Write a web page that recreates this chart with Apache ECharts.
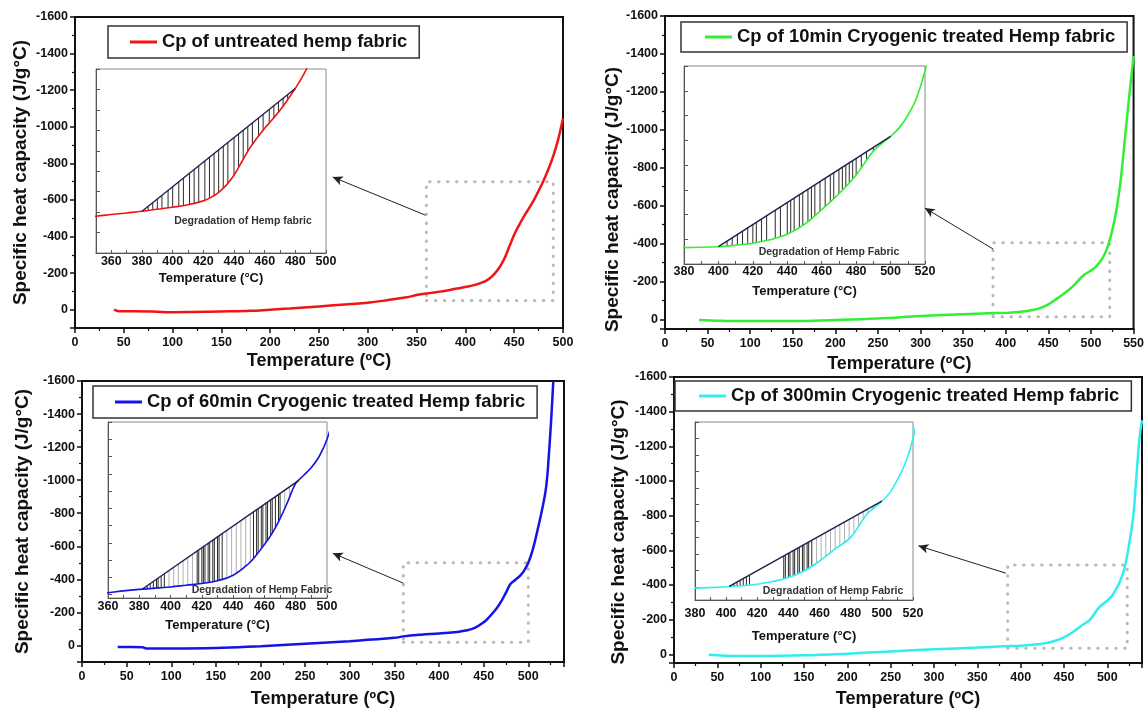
<!DOCTYPE html>
<html><head><meta charset="utf-8">
<script src="https://cdn.jsdelivr.net/npm/echarts@6/dist/echarts.min.js"></script>
<style>html,body{margin:0;padding:0;background:#fff}#c{width:1147px;height:709px}</style>
</head><body><div id="c"></div>
<script>
// ---------------- DATA ----------------
const names = [
  'Cp of untreated hemp fabric',
  'Cp of 10min Cryogenic treated Hemp fabric',
  'Cp of 60min Cryogenic treated Hemp fabric',
  'Cp of 300min Cryogenic treated Hemp fabric'
];
const degradationTexts = ['Degradation of Hemp fabric','Degradation of Hemp Fabric','Degradation of Hemp Fabric','Degradation of Hemp Fabric'];
const mainXTitle = 'Temperature (ºC)';
const insetXTitle = 'Temperature (°C)';
const yTitle = 'Specific heat capacity (J/g°C)';

// Panel 1 (untreated)
const temps1 = [40,45,60,80,100,120,150,180,200,220,250,280,300,320,340,350,360,370,380,390,400,410,420,425,430,435,440,445,450,455,460,465,470,475,480,485,490,495,500];
const cp1    = [0,8,8,10,14,13,10,6,0,-6,-18,-30,-38,-52,-68,-80,-88,-96,-104,-114,-124,-136,-155,-172,-197,-232,-280,-345,-410,-462,-510,-553,-598,-650,-705,-768,-840,-930,-1045];
// Panel 2 (10 min)
const temps2 = [40,60,80,100,150,200,250,300,350,380,400,410,420,430,440,450,460,470,480,490,500,505,510,515,520,525,530,535,540,545,550];
const cp2    = [3,6,8,8,8,2,-6,-18,-28,-33,-35,-38,-42,-49,-60,-80,-110,-142,-180,-228,-258,-275,-300,-335,-390,-470,-580,-740,-960,-1180,-1390];
// Panel 3 (60 min)
const temps3 = [40,55,68,72,100,150,200,250,300,350,360,380,400,410,420,430,440,450,455,460,465,470,475,480,485,490,495,500,505,510,515,520,523,526,528];
const cp3    = [10,10,11,18,19,16,4,-10,-26,-46,-55,-65,-72,-77,-82,-90,-106,-140,-165,-195,-228,-270,-320,-372,-395,-418,-450,-500,-580,-690,-810,-960,-1150,-1400,-1600];
// Panel 4 (300 min)
const temps4 = [40,75,100,150,200,250,300,350,380,400,420,430,440,450,460,470,480,490,495,500,505,510,515,520,525,530,533,537,540];
const cp4    = [2,10,10,6,-4,-17,-29,-39,-46,-50,-58,-66,-78,-98,-128,-165,-200,-268,-290,-310,-335,-375,-425,-500,-630,-800,-990,-1240,-1350];

// Tangent baselines of the degradation region (inset)
const base1 = [[380,-104],[480,-705]];
const base2 = [[400,-35],[500,-258]];
const base3 = [[382,-66],[482,-381]];
const base4 = [[402,-51],[500,-310]];

// Hatch line positions (temperature)
const hatch1 = [384,387,390,393,397,400,404,407,411,414,417,421,424,427,430,433,436,440,443,446,449,452,456,459,463,466,469,472,475,478];
const hatch1Light = [];
const hatch2 = [405,408,411,414,417,420,422,425,428,433,436,440,442,444,447,449,452,454,456,459,462,465,467,470,472,474,476,478,480,483,486,490,494];
const hatch2Light = [];
const hatch3 = [385,387,389,391,392,394,396,417,418,420,421,422,424,425,427,428,430,431,433,453,455,456,458,459,461,462,464,465,467,469,470];
const hatch3Light = [399,402,405,408,411,414,436,439,442,445,448,451,473,476,479];
const hatch4 = [405,407,409,411,413,415,437,438,440,441,443,444,446,447,449,450,452,453,455];
const hatch4Light = [458,461,464,467,470,473,476,479,482,485,488,491,494,497];

// ---------------- LAYOUT / STYLE ----------------
const FONT = 'Arial, "Liberation Sans", sans-serif';
const panels = [
  {name:names[0], color:'#f01414', temps:temps1, cp:cp1, base:base1, hatch:hatch1, hatchLight:hatch1Light, deg:degradationTexts[0],
   grid:[75,17,488,311], xMax:500, yMax:100, xNameGap:24, yNameGap:45, yShift:0,
   legend:{left:108, top:26, padding:[7,12,7,22]},
   rect:[[360,-50],[490,-700]], arrow:[[359,-517],[264,-725]],
   inset:{grid:[96,69,230,184], xMin:350, xMax:500, yMin:-800, yMax:100, yInt:100, labelMargin:2, nameGap:19}, degPos:[243,221]},
  {name:names[1], color:'#33ee33', temps:temps2, cp:cp2, base:base2, hatch:hatch2, hatchLight:hatch2Light, deg:degradationTexts[1],
   grid:[665,16,476,313], xMax:550, yMax:50, xNameGap:26, yNameGap:43, yShift:27,
   legend:{left:681, top:22, padding:[6,12,6,24]},
   rect:[[385,-15],[522,-405]], arrow:[[385,-372],[305,-588]],
   inset:{grid:[684,66,241,198], xMin:380, xMax:520, yMin:-400, yMax:0, yInt:50, labelMargin:1, nameGap:21}, degPos:[829,252]},
  {name:names[2], color:'#1414e6', temps:temps3, cp:cp3, base:base3, hatch:hatch3, hatchLight:hatch3Light, deg:degradationTexts[2],
   grid:[82,381,482,282], xMax:540, yMax:100, xNameGap:28, yNameGap:50, yShift:0,
   legend:{left:93, top:386, padding:[7,12,7,22]},
   rect:[[360,-20],[500,-500]], arrow:[[360,-377],[281,-558]],
   inset:{grid:[108,422,219,176], xMin:360, xMax:500, yMin:-550, yMax:-40, yInt:50, labelMargin:2, nameGap:21}, degPos:[262,590]},
  {name:names[3], color:'#30eeee', temps:temps4, cp:cp4, base:base4, hatch:hatch4, hatchLight:hatch4Light, deg:degradationTexts[3],
   grid:[674,377,468,286], xMax:540, yMax:50, xNameGap:27, yNameGap:46, yShift:12,
   legend:{left:675, top:381, padding:[6,12,6,24]},
   rect:[[385,-35],[523,-515]], arrow:[[383,-468],[282,-626]],
   inset:{grid:[695,422,218,178], xMin:380, xMax:520, yMin:-550, yMax:-10, yInt:50, labelMargin:7, nameGap:30}, degPos:[833,591]}
];

function interp(xs, ys, t) {
  for (let i = 1; i < xs.length; i++) {
    if (t <= xs[i]) { const f = (t - xs[i-1]) / (xs[i] - xs[i-1]); return ys[i-1] + f * (ys[i] - ys[i-1]); }
  }
  return ys[ys.length - 1];
}

const grid = [], xAxis = [], yAxis = [], series = [], legend = [], graphic = [];
const boldText = (size, extra) => Object.assign({fontFamily: FONT, fontWeight: 'bold', fontSize: size, color: '#111'}, extra || {});

panels.forEach((p, i) => {
  const pts = p.temps.map((t, k) => [t, p.cp[k]]);
  // ---- main plot ----
  const gm = grid.length;
  grid.push({left:p.grid[0], top:p.grid[1], width:p.grid[2], height:p.grid[3], show:true, borderColor:'#111', borderWidth:2, backgroundColor:'rgba(0,0,0,0)'});
  xAxis.push({gridIndex:gm, type:'value', min:0, max:p.xMax, interval:50,
    name:mainXTitle, nameLocation:'middle', nameGap:p.xNameGap, nameTextStyle:boldText(18),
    axisLine:{show:true, onZero:false, lineStyle:{color:'#111', width:2}},
    axisTick:{show:true, inside:false, length:5, lineStyle:{color:'#111', width:1.5}},
    minorTick:{show:true, splitNumber:2, length:3, lineStyle:{color:'#111', width:1.2}},
    axisLabel:Object.assign(boldText(12.5), {margin:8, formatter: v => (v % 50 === 0 ? String(v) : '')}),
    splitLine:{show:false}});
  yAxis.push({gridIndex:gm, type:'value', inverse:true, min:-1600, max:p.yMax, interval:200,
    name:yTitle, nameLocation:'middle', nameRotate:90, nameGap:p.yNameGap,
    nameTextStyle:boldText(19, {padding:[0, 2 * p.yShift, 0, 0]}),
    axisLine:{show:true, onZero:false, lineStyle:{color:'#111', width:2}},
    axisTick:{show:true, inside:false, length:5, lineStyle:{color:'#111', width:1.5}},
    minorTick:{show:true, splitNumber:2, length:3, lineStyle:{color:'#111', width:1.2}},
    axisLabel:Object.assign(boldText(12.5), {margin:7, formatter: v => (v % 200 === 0 ? String(v) : '')}),
    splitLine:{show:false}});
  series.push({type:'line', name:p.name, xAxisIndex:gm, yAxisIndex:gm, data:pts, symbol:'none', showSymbol:false,
    smooth:0.4, lineStyle:{color:p.color, width:2.5}, itemStyle:{color:p.color}, z:3,
    markArea:{silent:true, itemStyle:{color:'rgba(0,0,0,0)', borderColor:'#b9b9b9', borderWidth:3, borderType:[0.5,8.5], borderCap:'round'},
      data:[[{coord:p.rect[0]},{coord:p.rect[1]}]]},
    markLine:{silent:true, symbol:['none','arrow'], symbolSize:[7,10], label:{show:false},
      lineStyle:{color:'#222', width:1, type:'solid'},
      data:[[{coord:p.arrow[0]},{coord:p.arrow[1]}]]}});
  legend.push({data:[{name:p.name, icon:'rect'}], left:p.legend.left, top:p.legend.top, padding:p.legend.padding,
    borderColor:'#333', borderWidth:1.5, backgroundColor:'#fff', itemWidth:27, itemHeight:3, itemGap:0,
    selectedMode:false, textStyle:boldText(18.4)});

  // ---- inset ----
  const ins = p.inset;
  const gi = grid.length;
  grid.push({left:ins.grid[0], top:ins.grid[1], width:ins.grid[2], height:ins.grid[3], show:true, borderColor:'#8a8a8a', borderWidth:1, backgroundColor:'#fff', z:5});
  xAxis.push({gridIndex:gi, type:'value', min:ins.xMin, max:ins.xMax, interval:10, z:6,
    name:insetXTitle, nameLocation:'middle', nameGap:ins.nameGap, nameTextStyle:boldText(13),
    axisLine:{show:true, onZero:false, lineStyle:{color:'#555', width:1}},
    axisTick:{show:true, inside:true, length:3, lineStyle:{color:'#555'}},
    axisLabel:Object.assign(boldText(12.5), {margin:ins.labelMargin, formatter: v => (v % 20 === 0 ? String(v) : '')}),
    splitLine:{show:false}});
  yAxis.push({gridIndex:gi, type:'value', inverse:true, min:ins.yMin, max:ins.yMax, interval:ins.yInt, z:6,
    axisLine:{show:true, onZero:false, lineStyle:{color:'#555', width:1}},
    axisTick:{show:true, inside:true, length:4, lineStyle:{color:'#555'}},
    axisLabel:{show:false}, splitLine:{show:false}});

  const hatchSeries = (arr, col, w) => ({type:'custom', name:'hatch' + i + col, xAxisIndex:gi, yAxisIndex:gi, z:7,
    data:arr.map(t => [t]), silent:true,
    renderItem: (params, api) => {
      const t = api.value(0);
      const b0 = p.base[0], b1 = p.base[1];
      const yb = b0[1] + (t - b0[0]) / (b1[0] - b0[0]) * (b1[1] - b0[1]);
      const yc = interp(p.temps, p.cp, t);
      const a = api.coord([t, yb]), c = api.coord([t, yc]);
      return {type:'line', shape:{x1:a[0], y1:a[1], x2:c[0], y2:c[1]}, style:{stroke:col, lineWidth:w}};
    }});
  if (p.hatchLight.length) series.push(hatchSeries(p.hatchLight, '#b0b0b0', 1));
  series.push(hatchSeries(p.hatch, '#2a2a2a', 1));
  series.push({type:'line', name:p.name, xAxisIndex:gi, yAxisIndex:gi, data:pts, symbol:'none', showSymbol:false,
    smooth:0.4, lineStyle:{color:p.color, width:1.6}, itemStyle:{color:p.color}, z:8, clip:true});
  series.push({type:'line', name:'baseline' + i, xAxisIndex:gi, yAxisIndex:gi, data:p.base, symbol:'none',
    lineStyle:{color:'#1e1e4e', width:1.4}, z:9, silent:true});

  graphic.push({type:'text', x:p.degPos[0], y:p.degPos[1], z:100,
    style:{text:p.deg, font:'bold 10.5px ' + FONT, fill:'#333', align:'center', verticalAlign:'middle'}});
});

const chart = echarts.init(document.getElementById('c'), null, {renderer:'canvas'});
chart.setOption({
  animation:false,
  backgroundColor:'#fff',
  textStyle:{fontFamily:FONT},
  grid, xAxis, yAxis, series, legend, graphic
});
</script></body></html>
